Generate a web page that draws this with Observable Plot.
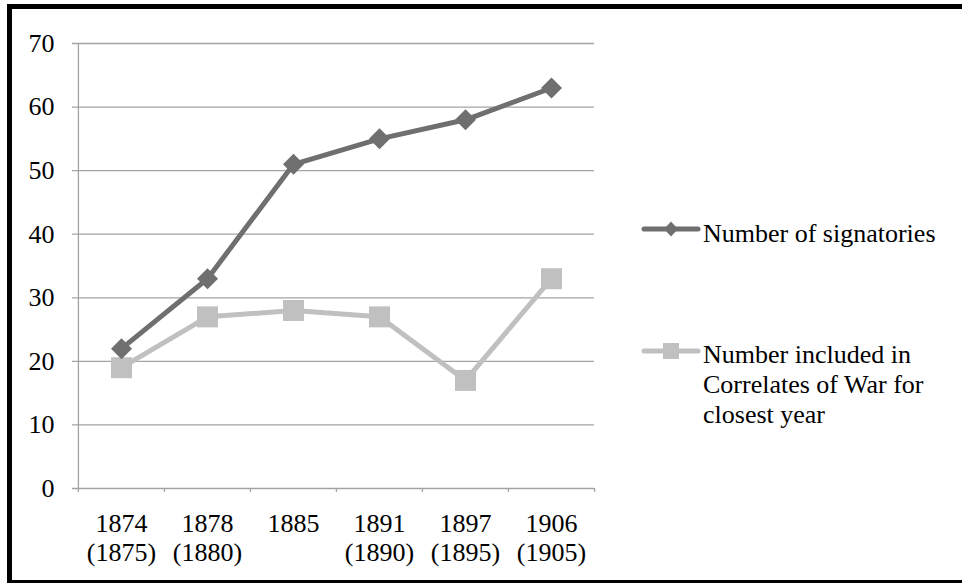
<!DOCTYPE html>
<html>
<head>
<meta charset="utf-8">
<script src="https://cdn.jsdelivr.net/npm/d3@7"></script>
<script src="https://cdn.jsdelivr.net/npm/@observablehq/plot@0.6"></script>
<style>
  html, body { margin: 0; padding: 0; background: #fff; overflow: hidden; }
  body { width: 962px; height: 583px; position: relative; font-family: "Liberation Serif", Tinos, "Noto Serif", "Nimbus Roman", "FreeSerif", "DejaVu Serif", "Times New Roman", serif; }
  #frame { position: absolute; left: 7px; top: 4px; width: 1000px; height: 571px; border: 5px solid #000; }
  #chart { position: absolute; left: 0; top: 0; }
  .leg { position: absolute; font-size: 26px; line-height: 30px; color: #000; }
  .legsw { position: absolute; }
</style>
</head>
<body>
<div id="frame"></div>
<div id="chart"></div>
<div id="legend"></div>
<script>
const categories = ["1874", "1878", "1885", "1891", "1897", "1906"];
const secondLabels = ["(1875)", "(1880)", "", "(1890)", "(1895)", "(1905)"];
const signatories = [22, 33, 51, 55, 58, 63];
const correlates = [19, 27, 28, 27, 17, 33];
const yTicks = [0, 10, 20, 30, 40, 50, 60, 70];
const seriesNames = ["Number of signatories", "Number included in Correlates of War for closest year"];

const darkColor = "#6f6f6f";
const lightColor = "#c0c0c0";
const gridColor = "#a3a3a3";
const FONT = "'Liberation Serif', Tinos, 'Noto Serif', 'Nimbus Roman', FreeSerif, 'DejaVu Serif', 'Times New Roman', serif";

const W = 962, H = 583;
const mL = 77, mR = 368, mT = 43, mB = 95;
const step = (W - mL - mR) / categories.length;

const diamond = {draw(ctx, size) { const h = Math.sqrt(size / Math.PI); ctx.moveTo(0, -h); ctx.lineTo(h, 0); ctx.lineTo(0, h); ctx.lineTo(-h, 0); ctx.closePath(); }};
const square = {draw(ctx, size) { const h = Math.sqrt(size / Math.PI); ctx.rect(-h, -h, 2 * h, 2 * h); }};

const sigData = categories.map((c, i) => ({cat: c, v: signatories[i]}));
const corData = categories.map((c, i) => ({cat: c, v: correlates[i]}));
const labelData = categories.map((c, i) => ({cat: c, label: secondLabels[i] ? c + "\n" + secondLabels[i] : c}));
const first = categories[0], last = categories[categories.length - 1];

const plot = Plot.plot({
  width: W, height: H,
  marginLeft: mL, marginRight: mR, marginTop: mT, marginBottom: mB,
  style: {fontFamily: FONT, fontSize: "26px", color: "#000", background: "transparent"},
  x: {type: "point", domain: categories, padding: 0.5, axis: null},
  y: {domain: [0, 70], axis: null},
  marks: [
    Plot.ruleY(yTicks, {stroke: gridColor, strokeWidth: 1.3, strokeOpacity: 1, insetLeft: -5}),
    Plot.ruleX([first], {x: d => d, dx: -step / 2, y1: 70, y2: 0, insetBottom: -4, stroke: gridColor, strokeWidth: 1.3}),
    Plot.ruleX(categories.slice(1), {x: d => d, dx: -step / 2, y1: 0, y2: 0, insetBottom: -4, stroke: gridColor, strokeWidth: 1.3}),
    Plot.ruleX([last], {x: d => d, dx: step / 2, y1: 0, y2: 0, insetBottom: -4, stroke: gridColor, strokeWidth: 1.3}),
    Plot.text(yTicks, {x: () => first, y: d => d, text: d => String(d), dx: -step / 2 - 24, textAnchor: "end", fontSize: 26, fill: "#000", fontFamily: FONT}),
    Plot.text(labelData, {x: "cat", y: () => 0, text: "label", dy: 23, lineAnchor: "top", lineHeight: 1.12, fontSize: 26, fill: "#000", fontFamily: FONT}),
    Plot.line(corData, {x: "cat", y: "v", stroke: lightColor, strokeWidth: 5}),
    Plot.dot(corData, {x: "cat", y: "v", symbol: square, r: 10.5, fill: lightColor, stroke: "none"}),
    Plot.line(sigData, {x: "cat", y: "v", stroke: darkColor, strokeWidth: 5}),
    Plot.dot(sigData, {x: "cat", y: "v", symbol: diamond, r: 10.5, fill: darkColor, stroke: "none"})
  ]
});
document.getElementById("chart").appendChild(plot);

// legend
const legend = document.getElementById("legend");
function swatch(top, color, kind) {
  const ns = "http://www.w3.org/2000/svg";
  const svg = document.createElementNS(ns, "svg");
  svg.setAttribute("width", 62); svg.setAttribute("height", 22);
  svg.setAttribute("class", "legsw");
  svg.style.left = "640px"; svg.style.top = top + "px";
  const ln = document.createElementNS(ns, "line");
  ln.setAttribute("x1", 4); ln.setAttribute("x2", 58); ln.setAttribute("y1", 11); ln.setAttribute("y2", 11);
  ln.setAttribute("stroke", color); ln.setAttribute("stroke-width", 5); ln.setAttribute("stroke-linecap", "round");
  svg.appendChild(ln);
  const m = document.createElementNS(ns, "path");
  m.setAttribute("d", kind === "diamond" ? "M31,3.5L38,11L31,18.5L24,11Z" : "M23,3H39V19H23Z");
  m.setAttribute("fill", color);
  svg.appendChild(m);
  legend.appendChild(svg);
}
swatch(218, darkColor, "diamond");
swatch(340, lightColor, "square");
const t1 = document.createElement("div");
t1.className = "leg"; t1.style.left = "703px"; t1.style.top = "219px"; t1.textContent = seriesNames[0];
legend.appendChild(t1);
const t2 = document.createElement("div");
t2.className = "leg"; t2.style.left = "703px"; t2.style.top = "340px"; t2.style.width = "232px"; t2.textContent = seriesNames[1];
legend.appendChild(t2);
</script>
</body>
</html>
